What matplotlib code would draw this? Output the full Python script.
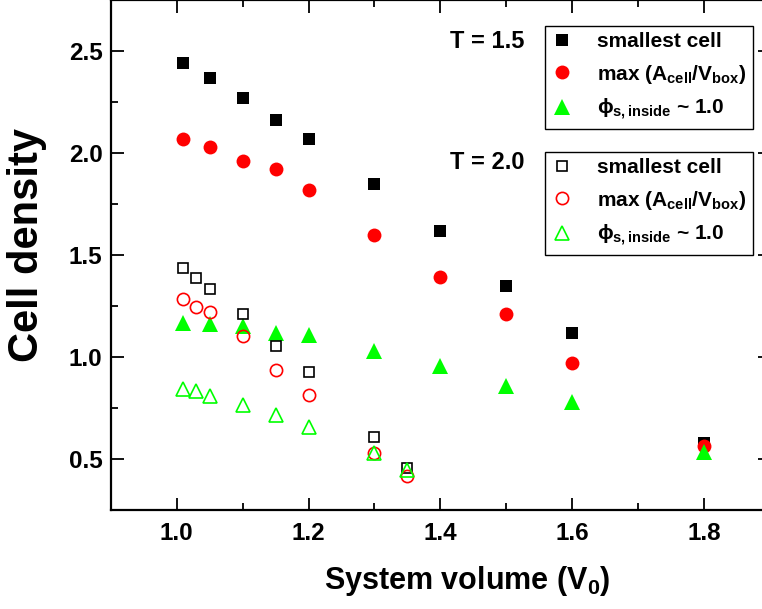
import matplotlib
matplotlib.use('Agg')
import matplotlib.pyplot as plt
from matplotlib.ticker import MultipleLocator

plt.rcParams['font.family'] = ['Liberation Sans', 'DejaVu Sans']
plt.rcParams['font.weight'] = 'bold'
plt.rcParams['axes.labelweight'] = 'bold'
plt.rcParams['mathtext.fontset'] = 'custom'
plt.rcParams['mathtext.rm'] = 'Liberation Sans:bold'
plt.rcParams['mathtext.it'] = 'Liberation Sans:bold'
plt.rcParams['mathtext.bf'] = 'Liberation Sans:bold'
plt.rcParams['mathtext.default'] = 'regular'

# T = 1.5 (filled markers)
v_hot = [1.01, 1.05, 1.1, 1.15, 1.2, 1.3, 1.4, 1.5, 1.6, 1.8]
small_hot = [2.44, 2.37, 2.27, 2.16, 2.07, 1.85, 1.62, 1.35, 1.12, 0.58]
maxa_hot = [2.07, 2.03, 1.96, 1.92, 1.82, 1.60, 1.39, 1.21, 0.97, 0.565]
phi_hot = [1.165, 1.16, 1.15, 1.12, 1.11, 1.03, 0.955, 0.86, 0.78, 0.535]

# T = 2.0 (open markers)
v_cold = [1.01, 1.03, 1.05, 1.1, 1.15, 1.2, 1.3, 1.35]
small_cold = [1.435, 1.385, 1.335, 1.21, 1.055, 0.925, 0.61, 0.455]
maxa_cold = [1.285, 1.245, 1.22, 1.105, 0.935, 0.815, 0.53, 0.415]
phi_cold = [0.845, 0.835, 0.81, 0.765, 0.715, 0.655, 0.53, 0.445]

lab_small = 'smallest cell'
lab_max = r'max (A$_{cell}$/V$_{box}$)'
lab_phi = r'$\phi_{s,inside}$ ~ 1.0'

fig = plt.figure(figsize=(7.62, 6.09), dpi=100)
ax = fig.add_axes([0.1453, 0.1626, 0.8652, 0.8374])

h1 = ax.plot(v_hot, small_hot, 's', color='black', ms=8.6, mew=0, label=lab_small)[0]
h2 = ax.plot(v_hot, maxa_hot, 'o', color='red', ms=10, mew=0, label=lab_max)[0]
h3 = ax.plot(v_hot, phi_hot, '^', color='#00ff00', ms=11, mew=0, label=lab_phi)[0]

h4 = ax.plot(v_cold, small_cold, 's', mfc='none', mec='black', ms=7.5, mew=1.2, label=lab_small)[0]
h5 = ax.plot(v_cold, maxa_cold, 'o', mfc='none', mec='red', ms=8.8, mew=1.2, label=lab_max)[0]
h6 = ax.plot(v_cold, phi_cold, '^', mfc='none', mec='#00ff00', ms=10.5, mew=1.2, label=lab_phi)[0]

ax.set_xlim(0.9, 1.9)
ax.set_ylim(0.25, 2.75)
ax.xaxis.set_major_locator(MultipleLocator(0.2))
ax.xaxis.set_minor_locator(MultipleLocator(0.1))
ax.yaxis.set_major_locator(MultipleLocator(0.5))
ax.yaxis.set_minor_locator(MultipleLocator(0.25))
ax.tick_params(which='both', direction='in', width=1.3, top=True, right=True, labelsize=17.5)
ax.tick_params(which='major', length=9)
ax.tick_params(which='minor', length=5)
ax.tick_params(axis='x', pad=9)
ax.tick_params(axis='y', pad=6)
for s in ax.spines.values():
    s.set_linewidth(1.6)
ax.xaxis.set_major_formatter(plt.FormatStrFormatter('%.1f'))
ax.yaxis.set_major_formatter(plt.FormatStrFormatter('%.1f'))

ax.set_xlabel(r'System volume (V$_0$)', fontsize=22)
ax.set_ylabel('Cell density', fontsize=30)
ax.xaxis.set_label_coords(0.54, -0.105)
ax.yaxis.set_label_coords(-0.097, 0.52)

leg_kw = dict(loc='upper left', fontsize=15, frameon=True, fancybox=False, framealpha=1,
              edgecolor='black', borderaxespad=0, borderpad=0.3, handlelength=1.03,
              handletextpad=1.17, labelspacing=0.55, numpoints=1)
leg1 = ax.legend(handles=[h1, h2, h3], bbox_to_anchor=(0.659, 0.949), **leg_kw)
leg1.get_frame().set_linewidth(1.0)
ax.add_artist(leg1)
leg2 = ax.legend(handles=[h4, h5, h6], bbox_to_anchor=(0.659, 0.702), **leg_kw)
leg2.get_frame().set_linewidth(1.0)

ax.text(0.514, 0.918, 'T = 1.5', transform=ax.transAxes, fontsize=17, va='center')
ax.text(0.514, 0.682, 'T = 2.0', transform=ax.transAxes, fontsize=17, va='center')

fig.savefig('out.png', dpi=100)
